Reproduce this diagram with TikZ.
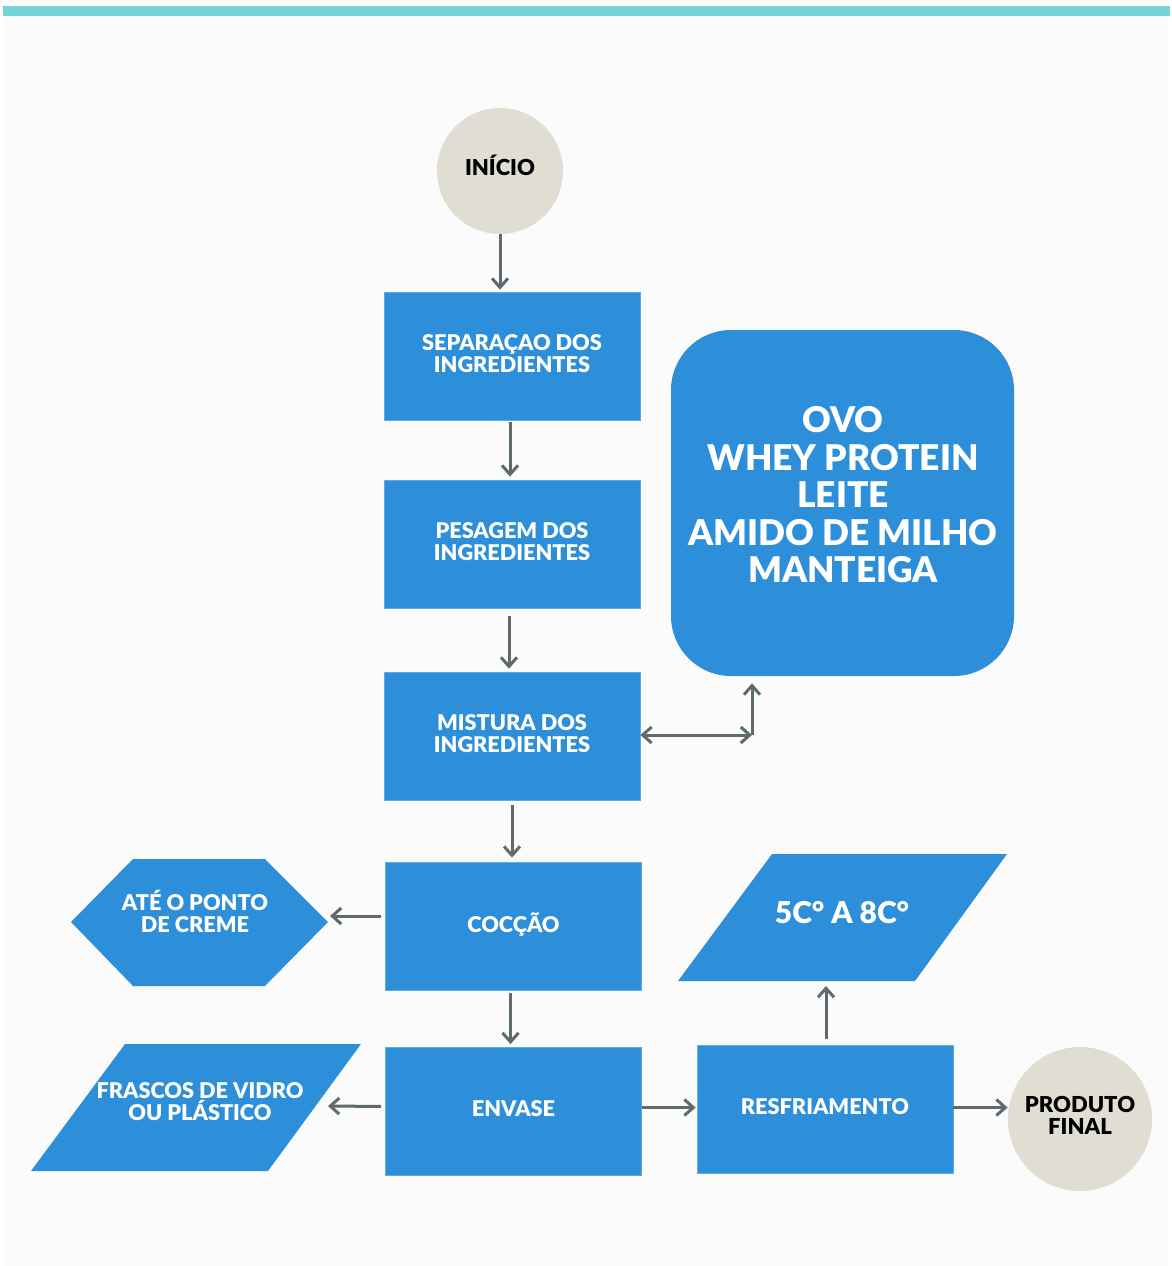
\documentclass[tikz,border=0pt]{standalone}
\usepackage{fontspec}
\setmainfont{Lato}[BoldFont={Lato Black}]
\usetikzlibrary{arrows.meta}
\definecolor{bluebox}{HTML}{2D8FDA}
\definecolor{arrowc}{HTML}{5E6A6E}
\definecolor{beige}{HTML}{E0DED3}
\definecolor{topbar}{HTML}{76D4D8}
\definecolor{bg}{HTML}{FBFBFB}
\begin{document}
\begin{tikzpicture}[x=0.5pt,y=-0.5pt,
  proc/.style={rectangle, fill=bluebox, draw=bluebox!75!white, line width=0.4pt,
    minimum width=128pt, minimum height=64pt, text=white, align=center, inner sep=0pt,
    text depth=3pt, font=\fontsize{10.85}{11}\selectfont\bfseries},
  circ/.style={circle, fill=beige, text=black, align=center, inner sep=0pt,
    font=\fontsize{11}{11}\selectfont\bfseries},
  lbl/.style={text=white, align=center, inner sep=0pt,
    font=\fontsize{10.85}{11}\selectfont\bfseries},
  conn/.style={draw=arrowc, line width=1.5pt, -{Straight Barb[length=4.5pt,width=8pt]}},
]
\useasboundingbox (0,0) rectangle (1172,1266);
\fill[white] (0,0) rectangle (1172,1266);
\fill[bg] (3,16) rectangle (1169,1266);
\fill[topbar] (3,6) rectangle (1170,15.5);

% circles
\node[circ, minimum size=63pt, text depth=6pt] (inicio) at (500,171) {INÍCIO};
\node[circ, minimum size=72pt, text depth=4pt] (fim) at (1080,1119) {PRODUTO\\FINAL};

% process boxes
\node[proc] (sep) at (512,356) {SEPARAÇAO DOS\\INGREDIENTES};
\node[proc] (pes) at (512,544) {PESAGEM DOS\\INGREDIENTES};
\node[proc] (mis) at (512,736) {MISTURA DOS\\INGREDIENTES};
\node[proc] (coc) at (513.5,926) {COCÇÃO};
\node[proc, text depth=3.5pt] (env) at (513.5,1111.5) {ENVASE};
\node[proc, text depth=3.5pt] (res) at (825,1109.5) {RESFRIAMENTO};

% big rounded box
\node[rectangle, rounded corners=30pt, fill=bluebox, minimum width=171.5pt,
  minimum height=173pt, inner sep=0pt] (big) at (842.5,503) {};
\node[lbl, font=\fontsize{17.7}{18.75}\selectfont\bfseries] (bigtxt) at (843,495)
  {OVO\\WHEY PROTEIN\\LEITE\\AMIDO DE MILHO\\MANTEIGA};

% hexagon
\fill[bluebox] (71,922) -- (133,859) -- (265,859) -- (328,922) -- (265,986) -- (133,986) -- cycle;
\node[lbl] (hex) at (195,911.5) {ATÉ O PONTO\\DE CREME};
\coordinate (hexR) at (330,916);

% parallelogram frascos
\fill[bluebox] (125,1044) -- (361,1044) -- (268,1171) -- (31,1171) -- cycle;
\node[lbl] (frascos) at (200,1101.5) {FRASCOS DE VIDRO\\OU PLÁSTICO};
\coordinate (frasR) at (328,1106);

% parallelogram temperature
\fill[bluebox] (772,854) -- (1007,854) -- (915,981) -- (678,981) -- cycle;
\node[lbl, font=\fontsize{15}{15}\selectfont\bfseries] (temp) at (842,912.5) {5C° A 8C°};
\coordinate (tempB) at (826,986);

% connectors
\draw[conn, shorten >=1pt] (inicio.south) -- (inicio.south |- sep.north);
\draw[conn, shorten <=1pt, shorten >=1.5pt] ([xshift=-1pt]sep.south) -- ([xshift=-1pt]pes.north);
\draw[conn, shorten <=4pt, shorten >=1.5pt] ([xshift=-1.5pt]pes.south) -- ([xshift=-1.5pt]mis.north);
\coordinate (corner) at (752,735);
\draw[draw=arrowc, line width=1.5pt, {Straight Barb[length=4.5pt,width=8pt]}-{Straight Barb[length=4.5pt,width=8pt]}]
  ([yshift=0.5pt]mis.east) -- (corner);
\draw[conn, shorten >=3.5pt] (corner) -- (corner |- big.south);
\draw[conn, shorten <=2.5pt, shorten >=2pt] (mis.south) -- (mis.south |- coc.north);
\draw[conn, shorten <=2pt] ([yshift=5pt]coc.west) -- (hexR);
\draw[conn, shorten <=1.5pt, shorten >=1.5pt] ([xshift=-1.5pt]coc.south) -- ([xshift=-1.5pt]env.north);
\draw[conn, shorten <=2pt] ([yshift=2.5pt]env.west) -- (frasR);
\draw[conn, shorten >=0.5pt] ([yshift=2pt]env.east) -- ([yshift=2pt]env.east -| res.west);
\draw[conn, shorten <=3pt] ([xshift=0.5pt]res.north) -- (tempB);
\draw[conn] ([yshift=1pt]res.east) -- ([yshift=1pt]res.east -| fim.west);
\end{tikzpicture}
\end{document}
